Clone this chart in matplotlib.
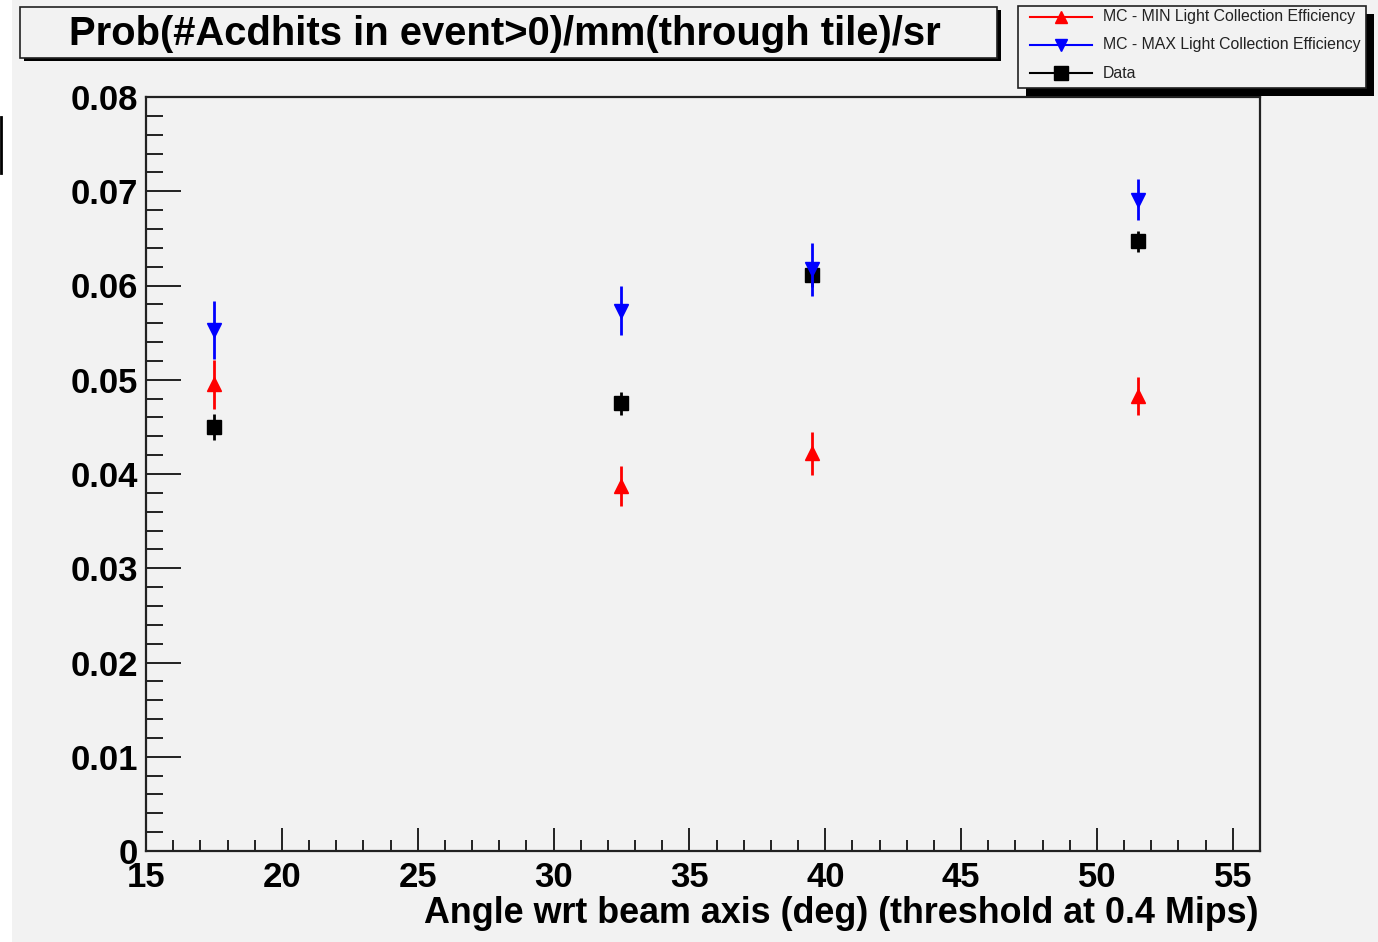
import matplotlib
matplotlib.use("Agg")
import matplotlib.pyplot as plt
from matplotlib.patches import Rectangle
from matplotlib.lines import Line2D
from matplotlib.ticker import MultipleLocator, FuncFormatter

plt.rcParams['font.family'] = ['Liberation Sans', 'DejaVu Sans']

# ---- data ----
angles = [17.5, 32.5, 39.5, 51.5]
mc_min = [0.0495, 0.0387, 0.0422, 0.0483]
mc_min_err = [0.0026, 0.0021, 0.0023, 0.0020]
mc_max = [0.0553, 0.0573, 0.0617, 0.0691]
mc_max_err = [0.0031, 0.0026, 0.0028, 0.0022]
data_vals = [0.0450, 0.0475, 0.0611, 0.0647]
data_err = [0.0014, 0.0012, 0.0013, 0.0011]

legend_labels = ["MC - MIN Light Collection Efficiency",
                 "MC - MAX Light Collection Efficiency",
                 "Data"]
title_text = "Prob(#Acdhits in event>0)/mm(through tile)/sr"
xlabel_text = "Angle wrt beam axis (deg) (threshold at 0.4 Mips)"

W, H = 1378, 942
BG = "#f2f2f2"
fig = plt.figure(figsize=(W / 100, H / 100), dpi=100, facecolor=BG)

def fx(px):
    return px / W

def fy(py):
    return 1 - py / H

# white strip at the left edge of the canvas
fig.patches.append(Rectangle((0, 0), fx(12), 1, transform=fig.transFigure,
                             facecolor="white", edgecolor="none", zorder=-1))
# small black artifact on the left edge
fig.lines.append(Line2D([fx(1), fx(1)], [fy(117), fy(173)], transform=fig.transFigure,
                        color="black", lw=2, zorder=1))

ax = fig.add_axes([fx(146), fy(851), fx(1260) - fx(146), fy(97) - fy(851)])
ax.set_facecolor(BG)
ax.set_xlim(15, 56)
ax.set_ylim(0, 0.08)

ax.xaxis.set_major_locator(MultipleLocator(5))
ax.xaxis.set_minor_locator(MultipleLocator(1))
ax.yaxis.set_major_locator(MultipleLocator(0.01))
ax.yaxis.set_minor_locator(MultipleLocator(0.002))
ax.yaxis.set_major_formatter(FuncFormatter(lambda v, p: "0" if abs(v) < 1e-9 else f"{v:.2f}"))

spine_col = "#222222"
for s in ax.spines.values():
    s.set_color(spine_col)
    s.set_linewidth(1.6)

ax.tick_params(axis="x", which="major", direction="in", length=16.5, width=1.4,
               color=spine_col, pad=7, labelsize=25)
ax.tick_params(axis="x", which="minor", direction="in", length=8, width=1.4, color=spine_col)
ax.tick_params(axis="y", which="major", direction="in", length=25, width=1.4,
               color=spine_col, pad=6, labelsize=25)
ax.tick_params(axis="y", which="minor", direction="in", length=12, width=1.4, color=spine_col)
ax.tick_params(top=False, right=False, which="both")
for lab in ax.get_xticklabels() + ax.get_yticklabels():
    lab.set_fontweight("bold")

# data series
ax.errorbar(angles, data_vals, yerr=data_err, fmt="s", color="black", ms=10.5,
            elinewidth=2, capsize=0, zorder=3)
ax.errorbar(angles, mc_min, yerr=mc_min_err, fmt="^", color="red", ms=9.5,
            elinewidth=2, capsize=0, zorder=4)
ax.errorbar(angles, mc_max, yerr=mc_max_err, fmt="v", color="blue", ms=9.5,
            elinewidth=2, capsize=0, zorder=5)

# x label
fig.text(fx(1258), fy(923), xlabel_text, ha="right", va="baseline",
         fontsize=25.8, fontweight="bold")

# title box with shadow
tx0, ty0, tx1, ty1 = 20, 7, 997, 58
fig.patches.append(Rectangle((fx(tx0 + 4), fy(ty1 + 3)), fx(tx1 - tx0), fy(ty0) - fy(ty1),
                             transform=fig.transFigure, facecolor="black",
                             edgecolor="none", zorder=2))
fig.patches.append(Rectangle((fx(tx0), fy(ty1)), fx(tx1 - tx0), fy(ty0) - fy(ty1),
                             transform=fig.transFigure, facecolor=BG,
                             edgecolor="#222222", lw=1.2, zorder=3))
fig.text(fx(505), fy(45), title_text, ha="center", va="baseline",
         fontsize=28.8, fontweight="bold", zorder=4)

# legend box with shadow
lx0, ly0, lx1, ly1 = 1018, 6, 1366, 88
fig.patches.append(Rectangle((fx(lx0 + 8), fy(ly1 + 8)), fx(lx1 - lx0), fy(ly0) - fy(ly1),
                             transform=fig.transFigure, facecolor="black",
                             edgecolor="none", zorder=2))
fig.patches.append(Rectangle((fx(lx0), fy(ly1)), fx(lx1 - lx0), fy(ly0) - fy(ly1),
                             transform=fig.transFigure, facecolor=BG,
                             edgecolor="#222222", lw=1.2, zorder=3))
leg_styles = [("red", "^"), ("blue", "v"), ("black", "s")]
leg_rows = [17, 45, 73]
for (col, mk), row, lab in zip(leg_styles, leg_rows, legend_labels):
    fig.lines.append(Line2D([fx(1030), fx(1092)], [fy(row), fy(row)],
                            transform=fig.transFigure, color=col, lw=1.5, zorder=4))
    fig.lines.append(Line2D([fx(1061)], [fy(row)], transform=fig.transFigure,
                            color=col, marker=mk, ms=9 if mk != "s" else 10,
                            ls="none", zorder=5))
    fig.text(fx(1103), fy(row), lab, ha="left", va="center", fontsize=11.4,
             color="#222222", zorder=5)

fig.savefig("out.png", dpi=100, facecolor=fig.get_facecolor())
